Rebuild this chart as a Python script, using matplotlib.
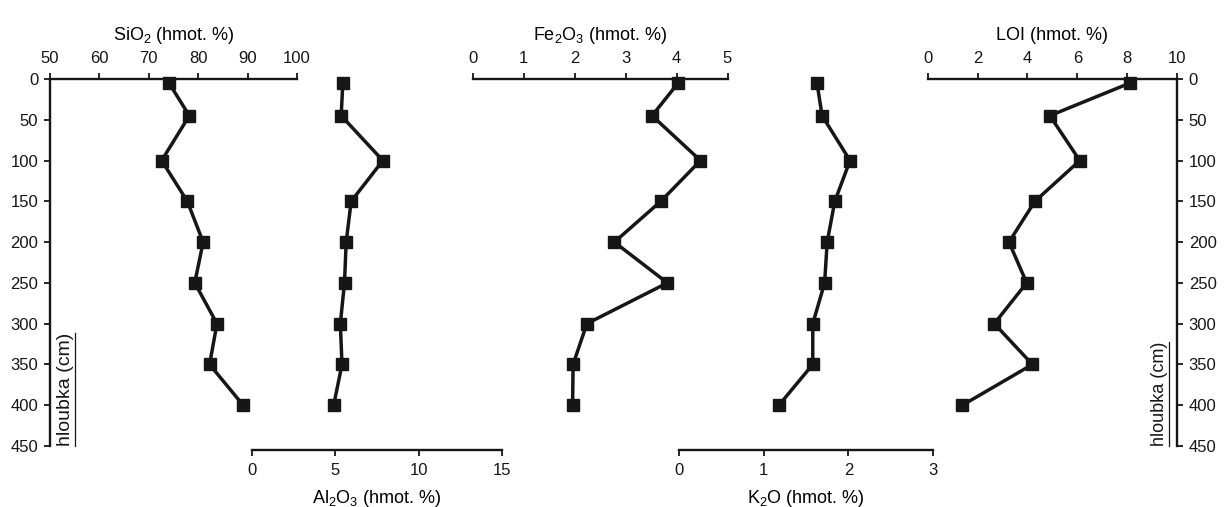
import numpy as np
import matplotlib
matplotlib.use("Agg")
import matplotlib.pyplot as plt
from matplotlib.lines import Line2D

plt.rcParams['font.family'] = ['Liberation Sans', 'DejaVu Sans']
plt.rcParams['mathtext.fontset'] = 'custom'
plt.rcParams['mathtext.rm'] = 'Liberation Sans'
plt.rcParams['font.size'] = 12

## data (depth in cm, values in hmot. %)
depth = [5, 45, 100, 150, 200, 250, 300, 350, 400]
sio2 = [74.1, 78.2, 72.6, 77.8, 81.0, 79.3, 83.8, 82.3, 89.1]
al2o3 = [5.45, 5.35, 7.85, 5.95, 5.65, 5.55, 5.3, 5.4, 4.9]
fe2o3 = [4.03, 3.52, 4.47, 3.69, 2.78, 3.82, 2.24, 1.97, 1.96]
k2o = [1.63, 1.69, 2.02, 1.84, 1.75, 1.72, 1.58, 1.58, 1.18]
loi = [8.11, 4.9, 6.1, 4.3, 3.26, 3.97, 2.67, 4.2, 1.39]

depth_ticks = np.arange(0, 451, 50)
W, H = 1224, 507
INK = '#161616'
TICK_FS = 12
LABEL_FS = 13

fig = plt.figure(figsize=(W / 100, H / 100), dpi=100)


def make_axes(x0, x1, y0=79, y1=446):
    ax = fig.add_axes([x0 / W, 1 - y1 / H, (x1 - x0) / W, (y1 - y0) / H])
    ax.patch.set_alpha(0)
    for s in ax.spines.values():
        s.set_visible(False)
        s.set_linewidth(1.7)
        s.set_color(INK)
    ax.tick_params(colors=INK, width=1.3, length=4.5, labelsize=TICK_FS)
    ax.set_ylim(450, 0)
    return ax


def profile(ax, values, xlim, xticks, label, side):
    ax.plot(values, depth, color=INK, lw=2.5, marker='s', ms=9,
            mfc=INK, mec=INK, clip_on=False, zorder=5)
    ax.set_xlim(*xlim)
    ax.set_xticks(xticks)
    ax.set_yticks([])
    ax.spines[side].set_visible(True)
    if side == 'top':
        ax.xaxis.tick_top()
        ax.xaxis.set_label_position('top')
        ax.tick_params(axis='x', pad=5)
        ax.set_xlabel(label, labelpad=8, fontsize=LABEL_FS)
    else:
        ax.spines['bottom'].set_position(('outward', 3))
        ax.tick_params(axis='x', pad=5)
        ax.set_xlabel(label, labelpad=7, fontsize=LABEL_FS)


ax_si = make_axes(50, 297)
profile(ax_si, sio2, (50, 100), [50, 60, 70, 80, 90, 100],
        r'$\mathregular{SiO_2}$ (hmot. %)', 'top')
ax_al = make_axes(252, 502)
profile(ax_al, al2o3, (0, 15), [0, 5, 10, 15],
        r'$\mathregular{Al_2O_3}$ (hmot. %)', 'bottom')
ax_fe = make_axes(472.7, 727.5)
profile(ax_fe, fe2o3, (0, 5), [0, 1, 2, 3, 4, 5],
        r'$\mathregular{Fe_2O_3}$ (hmot. %)', 'top')
ax_k = make_axes(679, 933)
profile(ax_k, k2o, (0, 3), [0, 1, 2, 3],
        r'$\mathregular{K_2O}$ (hmot. %)', 'bottom')
ax_loi = make_axes(927.7, 1177)
profile(ax_loi, loi, (0, 10), [0, 2, 4, 6, 8, 10], 'LOI (hmot. %)', 'top')

# depth axes: left on the SiO2 panel, right on the LOI panel
ax_si.spines['left'].set_visible(True)
ax_si.set_yticks(depth_ticks)
ax_si.tick_params(axis='y', pad=4)
ax_loi.spines['right'].set_visible(True)
ax_loi.yaxis.tick_right()
ax_loi.set_yticks(depth_ticks)
ax_loi.tick_params(axis='y', pad=4)

# underlined "hloubka (cm)" labels sitting inside the plot next to the spines
labels = [
    ax_si.text(0.028, 0.0, 'hloubka (cm)', transform=ax_si.transAxes,
               rotation=90, ha='left', va='bottom', color=INK, fontsize=14),
    ax_loi.text(0.895, 0.0, 'hloubka (cm)', transform=ax_loi.transAxes,
                rotation=90, ha='left', va='bottom', color=INK, fontsize=13),
]
fig.canvas.draw()
r = fig.canvas.get_renderer()
for t in labels:
    bb = t.get_window_extent(r)
    x = (bb.x1 + 1.0) / W
    fig.add_artist(Line2D([x, x], [bb.y0 / H, bb.y1 / H], color=INK, lw=0.9))

fig.savefig('out.png', dpi=100)
